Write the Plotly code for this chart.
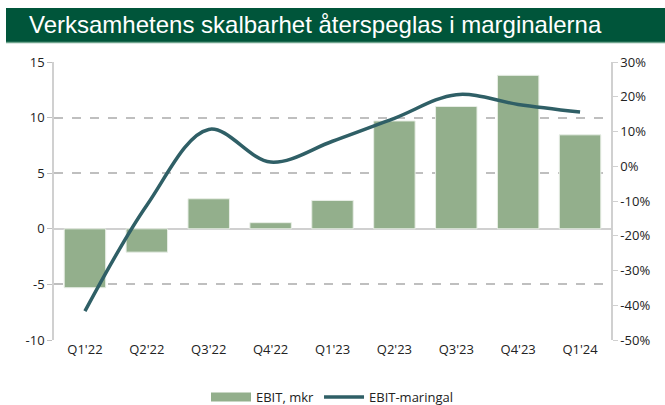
import plotly.graph_objects as go

categories = ["Q1'22", "Q2'22", "Q3'22", "Q4'22", "Q1'23", "Q2'23", "Q3'23", "Q4'23", "Q1'24"]
ebit = [-5.3, -2.1, 2.7, 0.55, 2.55, 9.7, 11.0, 13.8, 8.45]
margin_pct = [-41.7, -11.2, 10.6, 1.2, 7.2, 13.8, 20.6, 17.8, 15.6]

left_ticks = [-10, -5, 0, 5, 10, 15]
left_labels = ["-10", "-5", "0", "5", "10", "15"]
right_ticks = [-50, -40, -30, -20, -10, 0, 10, 20, 30]
right_labels = ["-50%", "-40%", "-30%", "-20%", "-10%", "0%", "10%", "20%", "30%"]

title_text = "Verksamhetens skalbarhet återspeglas i marginalerna"
bar_name = "EBIT, mkr"
line_name = "EBIT-maringal"

BAR_COLOR = "#93AF8C"
LINE_COLOR = "#2F5F66"

W, H = 665, 405
L, R, T, B = 54, 54, 62, 65
pw, ph = W - L - R, H - T - B

def px_x(px):
    return (px - L) / pw

def px_y(py):
    return (H - B - py) / ph

fig = go.Figure()
fig.add_trace(go.Bar(
    x=categories, y=ebit, name=bar_name, showlegend=False,
    marker=dict(color=BAR_COLOR, line=dict(color="#E8EEE6", width=1)),
    yaxis="y",
))
# legend-only entry giving a wide rectangular swatch like the original
fig.add_trace(go.Scatter(
    x=[None], y=[None], name=bar_name, mode="lines",
    line=dict(color=BAR_COLOR, width=9), yaxis="y", hoverinfo="skip",
))
fig.add_trace(go.Scatter(
    x=categories, y=margin_pct, name=line_name, mode="lines",
    line=dict(color=LINE_COLOR, width=3.5, shape="spline", smoothing=1.0),
    yaxis="y2",
))

tickfont = dict(family="Open Sans, Liberation Sans, sans-serif", size=13, color="#222222")

fig.update_layout(
    width=W, height=H,
    margin=dict(l=L, r=R, t=T, b=B, autoexpand=False),
    paper_bgcolor="white", plot_bgcolor="white",
    bargap=0.33,
    showlegend=True,
    legend=dict(orientation="h", x=0.5, xanchor="center", y=px_y(397), yanchor="middle",
                font=dict(family="Open Sans, Liberation Sans, sans-serif", size=13, color="#222222"),
                traceorder="normal", itemwidth=40),
    xaxis=dict(showgrid=False, ticks="", tickfont=tickfont, showline=False, automargin=False),
    yaxis=dict(range=[-10, 15], tickvals=left_ticks, ticktext=left_labels,
               showgrid=True, gridcolor="#BFBFBF", griddash="dash",
               gridwidth=1.5, zeroline=True, zerolinecolor="#D0D0D0", zerolinewidth=1.5,
               showline=True, linecolor="#D0D0D0", linewidth=1.5,
               ticks="outside", ticklen=5, tickcolor="#BFBFBF",
               tickfont=tickfont, automargin=False),
    yaxis2=dict(range=[-50, 30], tickvals=right_ticks, ticktext=right_labels,
                overlaying="y", side="right",
                showgrid=False, zeroline=False,
                showline=True, linecolor="#D0D0D0", linewidth=1.5,
                ticks="outside", ticklen=5, tickcolor="#D0D0D0",
                tickfont=tickfont, automargin=False),
    shapes=[
        dict(type="rect", xref="paper", yref="paper",
             x0=px_x(6), x1=px_x(665), y0=px_y(42), y1=px_y(8),
             fillcolor="#00553A", line=dict(width=0), layer="above"),
        dict(type="line", xref="paper", yref="paper",
             x0=px_x(6), x1=px_x(665), y0=px_y(42.5), y1=px_y(42.5),
             line=dict(color="#6FA58E", width=1.5)),
    ],
    annotations=[
        dict(text=title_text, xref="paper", yref="paper",
             x=px_x(27), y=px_y(25), xanchor="left", yanchor="middle",
             showarrow=False,
             font=dict(family="Liberation Sans, Arial, sans-serif", size=24, color="white")),
    ],
)

fig.write_html("out.html", config={"displayModeBar": False},
               post_script="document.body.style.margin='0';document.body.style.overflow='hidden';")
